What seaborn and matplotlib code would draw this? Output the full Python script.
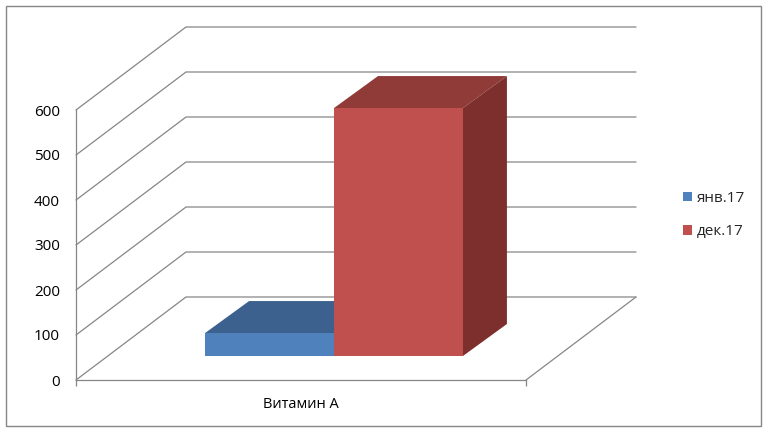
import matplotlib
matplotlib.use("Agg")
import matplotlib.pyplot as plt
import pandas as pd
import seaborn as sns
from matplotlib.patches import Rectangle

# values
categories = ["Витамин А"]
series_names = ["янв.17", "дек.17"]
jan_values = [51]
dec_values = [551]
y_ticks = [0, 100, 200, 300, 400, 500, 600]

front_colors = ["#4F81BD", "#C0504D"]
top_colors = ["#3C618E", "#913B39"]
side_colors = ["#325276", "#7D2F2D"]
line_color = "#868686"

W, H = 766, 432
FLOOR_DX = 110 / 450  # how far the back wall sits from the front plane, in data units
FLOOR_DY = 83 / 0.45
BAR_DX = 44 / 450  # depth of the bars themselves
BAR_DY = 32 / 0.45

sns.set_theme(style="white")
plt.rcParams["font.family"] = ["Open Sans", "DejaVu Sans"]


def px_axes(fig, left, right, top, bottom):
    return fig.add_axes([left / W, 1 - bottom / H, (right - left) / W, (bottom - top) / H])


df = pd.DataFrame({
    "category": categories * 2,
    "series": series_names,
    "value": jan_values + dec_values,
})

fig = plt.figure(figsize=(W / 100, H / 100), dpi=100)
fig.patch.set_facecolor("white")
fig.add_artist(Rectangle((5.5 / W, 1 - 425.5 / H), 755 / W, 420 / H, transform=fig.transFigure,
                         fill=False, edgecolor=line_color, linewidth=1.0))

# front plane of the box: the axis, ticks and labels
base = px_axes(fig, 76, 526, 110, 380)
base.set_xlim(-0.5, 0.5)
base.set_ylim(0, 600)
base.patch.set_alpha(0)
for name in ["top", "right"]:
    base.spines[name].set_visible(False)
for name in ["left", "bottom"]:
    base.spines[name].set_color(line_color)
    base.spines[name].set_linewidth(0.9)
base.set_yticks(y_ticks)
base.set_xticks([-0.5, 0.5])
base.set_xticklabels(["", ""])
base.set_xticks([0], labels=categories, minor=True)
base.tick_params(axis="y", length=3.5, width=0.9, color=line_color, pad=8, labelsize=11, labelcolor="black")
base.tick_params(axis="x", which="major", length=4, width=0.9, color=line_color, bottom=True)
base.tick_params(axis="x", which="minor", length=0, pad=12, labelsize=10.5, labelcolor="black")

# walls: each tick runs back along the side, then across the back
for v in y_ticks:
    base.plot([-0.5, -0.5 + FLOOR_DX, 0.5 + FLOOR_DX], [v, v + FLOOR_DY, v + FLOOR_DY],
              color=line_color, lw=0.9, clip_on=False, solid_joinstyle="miter")
base.plot([0.5, 0.5 + FLOOR_DX], [0, FLOOR_DY], color=line_color, lw=0.9, clip_on=False)

# bars stand a bit behind the front plane
ax = px_axes(fig, 109, 559, 86, 356)
ax.patch.set_alpha(0)
sns.barplot(data=df, x="category", y="value", hue="series", hue_order=series_names,
            palette=front_colors, width=0.573, gap=0, saturation=1, linewidth=0, ax=ax)
ax.set_xlim(-0.5, 0.5)
ax.set_ylim(0, 600)
ax.axis("off")

# extrude each bar: top and side faces
for container, top_c, side_c in zip(ax.containers, top_colors, side_colors):
    for bar in container:
        x0, x1 = bar.get_x(), bar.get_x() + bar.get_width()
        v = bar.get_height()
        ax.fill([x0, x1, x1 + BAR_DX, x0 + BAR_DX], [v, v, v + BAR_DY, v + BAR_DY],
                color=top_c, lw=0, clip_on=False, zorder=0.9)
        ax.fill([x1, x1 + BAR_DX, x1 + BAR_DX, x1], [0, BAR_DY, v + BAR_DY, v],
                color=side_c, lw=0, clip_on=False, zorder=0.9)

sns.move_legend(ax, "center left", bbox_to_anchor=(683 / W, 1 - 215 / H),
                bbox_transform=fig.transFigure, frameon=False, title=None, fontsize=11,
                handlelength=0.62, handleheight=0.62, handletextpad=0.3,
                labelspacing=1.2, borderpad=0, borderaxespad=0)

fig.savefig("out.png", dpi=100)
